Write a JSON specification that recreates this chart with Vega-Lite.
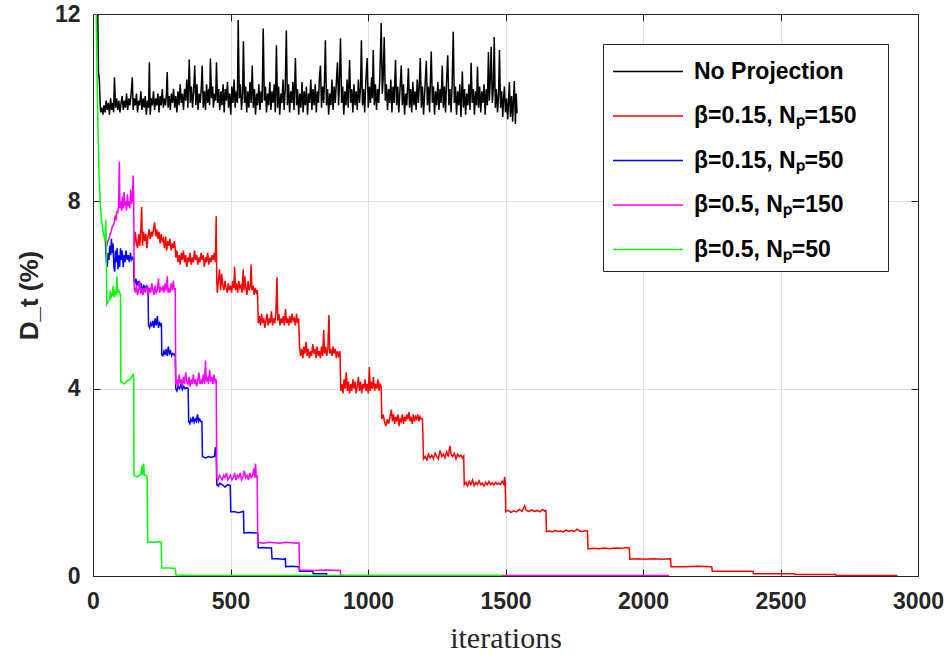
{
"$schema": "https://vega.github.io/schema/vega-lite/v6.json",
"width": 825, "height": 562,
"autosize": {"type": "none"},
"padding": {"left": 93, "top": 14, "right": 31, "bottom": 80},
"background": "white",
"config": {"view": {"stroke": "#262626", "strokeWidth": 1}, "font": "Liberation Sans"},
"data": {"values": [
{"k":"a","x":0,"y":16},{"k":"a","x":12,"y":13.5},{"k":"a","x":17,"y":12.2},{"k":"a","x":20,"y":10.75},{"k":"a","x":23,"y":10.6},{"k":"a","x":26,"y":10.1},{"k":"a","x":28,"y":9.9},{"k":"a","x":32,"y":10.0},{"k":"a","x":36,"y":9.85},{"k":"a","x":40,"y":10.05},{"k":"a","x":44,"y":9.9},{"k":"a","x":48,"y":10.15},{"k":"a","x":52,"y":9.95},{"k":"a","x":56,"y":10.1},{"k":"a","x":60,"y":9.85},{"k":"a","x":64,"y":10.2},{"k":"a","x":68,"y":9.95},{"k":"a","x":72,"y":10.1},{"k":"a","x":75,"y":9.9},{"k":"a","x":78,"y":10.65},{"k":"a","x":82,"y":10.0},{"k":"a","x":86,"y":10.2},{"k":"a","x":90,"y":9.95},{"k":"a","x":94,"y":10.15},{"k":"a","x":98,"y":9.9},{"k":"a","x":102,"y":10.1},{"k":"a","x":106,"y":10.25},{"k":"a","x":110,"y":9.95},{"k":"a","x":114,"y":10.15},{"k":"a","x":118,"y":10.0},{"k":"a","x":122,"y":10.3},{"k":"a","x":126,"y":9.95},{"k":"a","x":130,"y":10.2},{"k":"a","x":134,"y":10.05},{"k":"a","x":138,"y":10.25},{"k":"a","x":143,"y":10.65},{"k":"a","x":146,"y":9.95},{"k":"a","x":150,"y":10.2},{"k":"a","x":154,"y":10.05},{"k":"a","x":158,"y":10.3},{"k":"a","x":162,"y":9.9},{"k":"a","x":166,"y":10.15},{"k":"a","x":170,"y":10.05},{"k":"a","x":174,"y":10.35},{"k":"a","x":178,"y":9.95},{"k":"a","x":182,"y":10.2},{"k":"a","x":186,"y":10.0},{"k":"a","x":190,"y":10.25},{"k":"a","x":194,"y":9.85},{"k":"a","x":198,"y":10.15},{"k":"a","x":202,"y":10.0},{"k":"a","x":205,"y":10.97},{"k":"a","x":208,"y":9.85},{"k":"a","x":212,"y":10.2},{"k":"a","x":216,"y":10.05},{"k":"a","x":220,"y":10.35},{"k":"a","x":224,"y":9.95},{"k":"a","x":228,"y":10.2},{"k":"a","x":232,"y":10.05},{"k":"a","x":236,"y":10.3},{"k":"a","x":240,"y":9.9},{"k":"a","x":244,"y":10.25},{"k":"a","x":248,"y":10.05},{"k":"a","x":252,"y":10.4},{"k":"a","x":256,"y":10.0},{"k":"a","x":260,"y":10.2},{"k":"a","x":264,"y":10.05},{"k":"a","x":267,"y":10.3},{"k":"a","x":270,"y":10.76},{"k":"a","x":273,"y":10.0},{"k":"a","x":277,"y":10.25},{"k":"a","x":281,"y":9.95},{"k":"a","x":285,"y":10.3},{"k":"a","x":289,"y":10.1},{"k":"a","x":293,"y":10.4},{"k":"a","x":297,"y":10.0},{"k":"a","x":301,"y":10.25},{"k":"a","x":305,"y":9.9},{"k":"a","x":309,"y":10.35},{"k":"a","x":313,"y":10.05},{"k":"a","x":317,"y":10.5},{"k":"a","x":321,"y":10.1},{"k":"a","x":325,"y":10.3},{"k":"a","x":329,"y":9.95},{"k":"a","x":333,"y":10.4},{"k":"a","x":337,"y":10.15},{"k":"a","x":341,"y":10.6},{"k":"a","x":345,"y":10.0},{"k":"a","x":350,"y":11.03},{"k":"a","x":354,"y":10.1},{"k":"a","x":358,"y":10.45},{"k":"a","x":362,"y":10.0},{"k":"a","x":366,"y":10.35},{"k":"a","x":370,"y":10.9},{"k":"a","x":374,"y":10.05},{"k":"a","x":378,"y":10.5},{"k":"a","x":382,"y":9.95},{"k":"a","x":386,"y":10.3},{"k":"a","x":390,"y":10.1},{"k":"a","x":394,"y":10.45},{"k":"a","x":397,"y":10.9},{"k":"a","x":401,"y":10.0},{"k":"a","x":405,"y":10.35},{"k":"a","x":409,"y":9.95},{"k":"a","x":413,"y":10.5},{"k":"a","x":417,"y":10.1},{"k":"a","x":421,"y":10.4},{"k":"a","x":424,"y":10.05},{"k":"a","x":427,"y":11.05},{"k":"a","x":431,"y":10.2},{"k":"a","x":435,"y":10.45},{"k":"a","x":438,"y":10.0},{"k":"a","x":442,"y":10.3},{"k":"a","x":446,"y":10.15},{"k":"a","x":449,"y":10.97},{"k":"a","x":453,"y":10.1},{"k":"a","x":457,"y":10.4},{"k":"a","x":461,"y":9.95},{"k":"a","x":465,"y":10.35},{"k":"a","x":469,"y":10.05},{"k":"a","x":473,"y":10.5},{"k":"a","x":477,"y":9.9},{"k":"a","x":481,"y":10.4},{"k":"a","x":485,"y":10.15},{"k":"a","x":489,"y":10.55},{"k":"a","x":493,"y":10.0},{"k":"a","x":497,"y":10.3},{"k":"a","x":501,"y":9.85},{"k":"a","x":505,"y":10.45},{"k":"a","x":509,"y":10.1},{"k":"a","x":513,"y":10.6},{"k":"a","x":517,"y":10.0},{"k":"a","x":521,"y":10.35},{"k":"a","x":525,"y":10.1},{"k":"a","x":528,"y":11.87},{"k":"a","x":532,"y":10.2},{"k":"a","x":536,"y":10.5},{"k":"a","x":540,"y":9.95},{"k":"a","x":544,"y":10.3},{"k":"a","x":547,"y":11.42},{"k":"a","x":551,"y":10.1},{"k":"a","x":555,"y":10.45},{"k":"a","x":559,"y":9.9},{"k":"a","x":563,"y":10.35},{"k":"a","x":567,"y":10.0},{"k":"a","x":571,"y":10.55},{"k":"a","x":575,"y":10.1},{"k":"a","x":579,"y":10.9},{"k":"a","x":583,"y":10.0},{"k":"a","x":587,"y":10.4},{"k":"a","x":591,"y":9.85},{"k":"a","x":595,"y":10.3},{"k":"a","x":599,"y":10.05},{"k":"a","x":603,"y":10.5},{"k":"a","x":607,"y":9.95},{"k":"a","x":611,"y":10.35},{"k":"a","x":615,"y":10.1},{"k":"a","x":619,"y":11.69},{"k":"a","x":623,"y":10.15},{"k":"a","x":627,"y":10.45},{"k":"a","x":631,"y":9.9},{"k":"a","x":635,"y":10.3},{"k":"a","x":639,"y":10.05},{"k":"a","x":643,"y":10.55},{"k":"a","x":647,"y":9.95},{"k":"a","x":651,"y":10.35},{"k":"a","x":655,"y":10.1},{"k":"a","x":659,"y":10.5},{"k":"a","x":663,"y":9.9},{"k":"a","x":667,"y":11.33},{"k":"a","x":671,"y":10.0},{"k":"a","x":675,"y":10.45},{"k":"a","x":679,"y":9.85},{"k":"a","x":683,"y":10.3},{"k":"a","x":687,"y":10.1},{"k":"a","x":691,"y":10.6},{"k":"a","x":695,"y":9.95},{"k":"a","x":699,"y":10.4},{"k":"a","x":703,"y":11.65},{"k":"a","x":707,"y":10.05},{"k":"a","x":711,"y":10.5},{"k":"a","x":715,"y":9.9},{"k":"a","x":719,"y":10.35},{"k":"a","x":723,"y":10.1},{"k":"a","x":727,"y":10.55},{"k":"a","x":731,"y":9.95},{"k":"a","x":736,"y":11.06},{"k":"a","x":740,"y":10.05},{"k":"a","x":744,"y":10.4},{"k":"a","x":748,"y":9.85},{"k":"a","x":752,"y":10.3},{"k":"a","x":756,"y":10.0},{"k":"a","x":760,"y":10.55},{"k":"a","x":764,"y":9.9},{"k":"a","x":768,"y":10.35},{"k":"a","x":772,"y":10.05},{"k":"a","x":776,"y":10.45},{"k":"a","x":780,"y":9.85},{"k":"a","x":784,"y":10.3},{"k":"a","x":788,"y":10.1},{"k":"a","x":792,"y":10.6},{"k":"a","x":796,"y":9.95},{"k":"a","x":800,"y":10.4},{"k":"a","x":804,"y":10.05},{"k":"a","x":808,"y":10.5},{"k":"a","x":812,"y":9.9},{"k":"a","x":816,"y":10.35},{"k":"a","x":820,"y":10.1},{"k":"a","x":823,"y":10.6},{"k":"a","x":827,"y":10.9},{"k":"a","x":831,"y":10.0},{"k":"a","x":835,"y":10.45},{"k":"a","x":839,"y":10.1},{"k":"a","x":842,"y":10.6},{"k":"a","x":845,"y":11.44},{"k":"a","x":849,"y":10.05},{"k":"a","x":853,"y":10.4},{"k":"a","x":857,"y":9.85},{"k":"a","x":861,"y":10.3},{"k":"a","x":865,"y":10.05},{"k":"a","x":869,"y":10.6},{"k":"a","x":873,"y":9.95},{"k":"a","x":877,"y":10.45},{"k":"a","x":881,"y":10.1},{"k":"a","x":885,"y":10.55},{"k":"a","x":889,"y":10.97},{"k":"a","x":893,"y":10.05},{"k":"a","x":896,"y":10.5},{"k":"a","x":900,"y":11.48},{"k":"a","x":904,"y":10.1},{"k":"a","x":908,"y":10.45},{"k":"a","x":912,"y":9.85},{"k":"a","x":916,"y":10.35},{"k":"a","x":920,"y":10.05},{"k":"a","x":924,"y":10.6},{"k":"a","x":928,"y":10.0},{"k":"a","x":933,"y":11.02},{"k":"a","x":937,"y":10.1},{"k":"a","x":941,"y":10.4},{"k":"a","x":945,"y":9.9},{"k":"a","x":949,"y":10.5},{"k":"a","x":953,"y":10.05},{"k":"a","x":957,"y":10.35},{"k":"a","x":961,"y":9.95},{"k":"a","x":965,"y":10.6},{"k":"a","x":969,"y":10.1},{"k":"a","x":973,"y":10.45},{"k":"a","x":976,"y":11.44},{"k":"a","x":980,"y":10.05},{"k":"a","x":984,"y":10.4},{"k":"a","x":988,"y":9.9},{"k":"a","x":992,"y":10.55},{"k":"a","x":997,"y":11.06},{"k":"a","x":1001,"y":10.0},{"k":"a","x":1005,"y":10.45},{"k":"a","x":1009,"y":10.1},{"k":"a","x":1013,"y":10.65},{"k":"a","x":1016,"y":10.2},{"k":"a","x":1019,"y":11.23},{"k":"a","x":1023,"y":10.05},{"k":"a","x":1027,"y":10.5},{"k":"a","x":1031,"y":9.95},{"k":"a","x":1035,"y":10.4},{"k":"a","x":1039,"y":10.1},{"k":"a","x":1043,"y":10.65},{"k":"a","x":1048,"y":11.81},{"k":"a","x":1052,"y":10.3},{"k":"a","x":1055,"y":10.6},{"k":"a","x":1059,"y":11.51},{"k":"a","x":1063,"y":10.15},{"k":"a","x":1067,"y":10.5},{"k":"a","x":1071,"y":9.95},{"k":"a","x":1075,"y":10.4},{"k":"a","x":1079,"y":10.1},{"k":"a","x":1083,"y":10.6},{"k":"a","x":1087,"y":9.9},{"k":"a","x":1091,"y":10.45},{"k":"a","x":1095,"y":10.1},{"k":"a","x":1100,"y":11.02},{"k":"a","x":1104,"y":10.05},{"k":"a","x":1108,"y":10.45},{"k":"a","x":1112,"y":9.9},{"k":"a","x":1116,"y":10.35},{"k":"a","x":1121,"y":10.9},{"k":"a","x":1125,"y":10.05},{"k":"a","x":1129,"y":10.5},{"k":"a","x":1133,"y":9.85},{"k":"a","x":1137,"y":10.3},{"k":"a","x":1141,"y":10.05},{"k":"a","x":1147,"y":10.84},{"k":"a","x":1151,"y":10.0},{"k":"a","x":1155,"y":10.4},{"k":"a","x":1159,"y":9.9},{"k":"a","x":1163,"y":10.55},{"k":"a","x":1167,"y":10.05},{"k":"a","x":1171,"y":10.35},{"k":"a","x":1175,"y":9.95},{"k":"a","x":1179,"y":10.6},{"k":"a","x":1183,"y":10.1},{"k":"a","x":1186,"y":10.4},{"k":"a","x":1190,"y":11.06},{"k":"a","x":1194,"y":10.0},{"k":"a","x":1198,"y":10.45},{"k":"a","x":1202,"y":9.85},{"k":"a","x":1206,"y":10.3},{"k":"a","x":1212,"y":11.0},{"k":"a","x":1216,"y":10.05},{"k":"a","x":1220,"y":10.45},{"k":"a","x":1224,"y":9.9},{"k":"a","x":1227,"y":10.6},{"k":"a","x":1230,"y":11.2},{"k":"a","x":1234,"y":10.1},{"k":"a","x":1238,"y":10.45},{"k":"a","x":1242,"y":9.85},{"k":"a","x":1246,"y":10.35},{"k":"a","x":1250,"y":10.05},{"k":"a","x":1254,"y":10.55},{"k":"a","x":1258,"y":9.95},{"k":"a","x":1262,"y":10.4},{"k":"a","x":1266,"y":10.1},{"k":"a","x":1270,"y":10.9},{"k":"a","x":1274,"y":10.0},{"k":"a","x":1278,"y":10.45},{"k":"a","x":1282,"y":9.9},{"k":"a","x":1286,"y":10.6},{"k":"a","x":1290,"y":11.12},{"k":"a","x":1294,"y":10.05},{"k":"a","x":1298,"y":10.4},{"k":"a","x":1302,"y":9.9},{"k":"a","x":1306,"y":10.5},{"k":"a","x":1310,"y":11.62},{"k":"a","x":1314,"y":10.1},{"k":"a","x":1318,"y":10.45},{"k":"a","x":1322,"y":9.85},{"k":"a","x":1326,"y":10.35},{"k":"a","x":1330,"y":10.05},{"k":"a","x":1334,"y":10.5},{"k":"a","x":1338,"y":9.8},{"k":"a","x":1343,"y":10.77},{"k":"a","x":1347,"y":10.0},{"k":"a","x":1351,"y":10.4},{"k":"a","x":1355,"y":9.85},{"k":"a","x":1359,"y":10.3},{"k":"a","x":1363,"y":10.05},{"k":"a","x":1367,"y":10.5},{"k":"a","x":1371,"y":9.95},{"k":"a","x":1375,"y":10.96},{"k":"a","x":1379,"y":10.1},{"k":"a","x":1383,"y":10.4},{"k":"a","x":1387,"y":9.85},{"k":"a","x":1391,"y":10.35},{"k":"a","x":1395,"y":10.05},{"k":"a","x":1398,"y":10.88},{"k":"a","x":1402,"y":10.0},{"k":"a","x":1406,"y":10.45},{"k":"a","x":1410,"y":9.9},{"k":"a","x":1414,"y":10.35},{"k":"a","x":1418,"y":10.1},{"k":"a","x":1422,"y":10.5},{"k":"a","x":1426,"y":9.85},{"k":"a","x":1430,"y":10.4},{"k":"a","x":1434,"y":10.05},{"k":"a","x":1438,"y":11.19},{"k":"a","x":1441,"y":10.15},{"k":"a","x":1444,"y":10.5},{"k":"a","x":1448,"y":11.3},{"k":"a","x":1452,"y":10.1},{"k":"a","x":1456,"y":10.45},{"k":"a","x":1459,"y":11.51},{"k":"a","x":1463,"y":10.0},{"k":"a","x":1467,"y":10.4},{"k":"a","x":1471,"y":9.9},{"k":"a","x":1475,"y":10.3},{"k":"a","x":1478,"y":11.23},{"k":"a","x":1482,"y":10.0},{"k":"a","x":1486,"y":10.35},{"k":"a","x":1490,"y":9.8},{"k":"a","x":1493,"y":10.2},{"k":"a","x":1496,"y":10.45},{"k":"a","x":1500,"y":9.9},{"k":"a","x":1504,"y":10.2},{"k":"a","x":1508,"y":9.75},{"k":"a","x":1511,"y":10.1},{"k":"a","x":1514,"y":10.55},{"k":"a","x":1518,"y":9.8},{"k":"a","x":1522,"y":10.25},{"k":"a","x":1526,"y":9.7},{"k":"a","x":1529,"y":10.2},{"k":"a","x":1532,"y":10.57},{"k":"a","x":1536,"y":9.65},{"k":"a","x":1539,"y":10.3},{"k":"a","x":1542,"y":9.88},
{"k":"b","x":150,"y":7.05},{"k":"b","x":154,"y":7.35},{"k":"b","x":158,"y":7.1},{"k":"b","x":162,"y":7.0},{"k":"b","x":166,"y":7.3},{"k":"b","x":170,"y":7.05},{"k":"b","x":174,"y":7.4},{"k":"b","x":177,"y":7.88},{"k":"b","x":180,"y":7.05},{"k":"b","x":184,"y":7.35},{"k":"b","x":188,"y":7.15},{"k":"b","x":192,"y":7.3},{"k":"b","x":196,"y":7.0},{"k":"b","x":200,"y":7.25},{"k":"b","x":204,"y":7.4},{"k":"b","x":208,"y":7.2},{"k":"b","x":212,"y":7.35},{"k":"b","x":216,"y":7.25},{"k":"b","x":220,"y":7.4},{"k":"b","x":224,"y":7.55},{"k":"b","x":228,"y":7.25},{"k":"b","x":232,"y":7.4},{"k":"b","x":236,"y":7.2},{"k":"b","x":240,"y":7.35},{"k":"b","x":244,"y":7.1},{"k":"b","x":248,"y":7.3},{"k":"b","x":252,"y":7.15},{"k":"b","x":256,"y":7.2},{"k":"b","x":260,"y":7.0},{"k":"b","x":264,"y":7.25},{"k":"b","x":268,"y":6.95},{"k":"b","x":272,"y":7.15},{"k":"b","x":276,"y":7.05},{"k":"b","x":280,"y":7.2},{"k":"b","x":284,"y":6.95},{"k":"b","x":288,"y":7.1},{"k":"b","x":292,"y":7.0},{"k":"b","x":296,"y":7.15},{"k":"b","x":299,"y":7.0},
{"k":"b","x":301,"y":6.8},{"k":"b","x":305,"y":6.95},{"k":"b","x":309,"y":6.7},{"k":"b","x":313,"y":6.85},{"k":"b","x":317,"y":6.65},{"k":"b","x":321,"y":6.9},{"k":"b","x":325,"y":6.75},{"k":"b","x":329,"y":6.95},{"k":"b","x":333,"y":6.7},{"k":"b","x":337,"y":6.85},{"k":"b","x":341,"y":6.6},{"k":"b","x":345,"y":6.8},{"k":"b","x":349,"y":6.7},{"k":"b","x":353,"y":6.9},{"k":"b","x":357,"y":6.65},{"k":"b","x":361,"y":6.8},{"k":"b","x":365,"y":6.7},{"k":"b","x":369,"y":6.95},{"k":"b","x":373,"y":6.75},{"k":"b","x":377,"y":6.85},{"k":"b","x":381,"y":6.65},{"k":"b","x":385,"y":6.8},{"k":"b","x":389,"y":6.7},{"k":"b","x":393,"y":6.9},{"k":"b","x":397,"y":6.75},{"k":"b","x":401,"y":6.85},{"k":"b","x":405,"y":6.6},{"k":"b","x":409,"y":6.8},{"k":"b","x":413,"y":6.7},{"k":"b","x":417,"y":6.9},{"k":"b","x":421,"y":6.65},{"k":"b","x":425,"y":6.8},{"k":"b","x":429,"y":6.7},{"k":"b","x":433,"y":6.85},{"k":"b","x":437,"y":6.75},{"k":"b","x":441,"y":6.9},{"k":"b","x":445,"y":6.7},{"k":"b","x":448,"y":7.68},{"k":"b","x":450,"y":6.3},
{"k":"b","x":452,"y":6.05},{"k":"b","x":456,"y":6.3},{"k":"b","x":460,"y":6.55},{"k":"b","x":464,"y":6.1},{"k":"b","x":468,"y":6.45},{"k":"b","x":472,"y":6.2},{"k":"b","x":476,"y":6.1},{"k":"b","x":480,"y":6.3},{"k":"b","x":484,"y":6.15},{"k":"b","x":488,"y":6.05},{"k":"b","x":492,"y":6.25},{"k":"b","x":496,"y":6.1},{"k":"b","x":500,"y":6.2},{"k":"b","x":504,"y":6.05},{"k":"b","x":508,"y":6.3},{"k":"b","x":512,"y":6.15},{"k":"b","x":515,"y":6.6},{"k":"b","x":518,"y":6.1},{"k":"b","x":522,"y":6.25},{"k":"b","x":526,"y":6.05},{"k":"b","x":530,"y":6.3},{"k":"b","x":534,"y":6.15},{"k":"b","x":538,"y":6.2},{"k":"b","x":542,"y":6.05},{"k":"b","x":546,"y":6.55},{"k":"b","x":549,"y":6.1},{"k":"b","x":552,"y":6.4},{"k":"b","x":556,"y":6.15},{"k":"b","x":560,"y":6.0},{"k":"b","x":564,"y":6.3},{"k":"b","x":568,"y":6.1},{"k":"b","x":572,"y":6.2},{"k":"b","x":575,"y":6.65},{"k":"b","x":578,"y":6.1},{"k":"b","x":582,"y":6.2},{"k":"b","x":586,"y":6.0},{"k":"b","x":590,"y":6.15},{"k":"b","x":594,"y":6.05},{"k":"b","x":598,"y":6.1},
{"k":"b","x":601,"y":5.4},{"k":"b","x":605,"y":5.55},{"k":"b","x":609,"y":5.35},{"k":"b","x":613,"y":5.6},{"k":"b","x":617,"y":5.4},{"k":"b","x":621,"y":5.5},{"k":"b","x":625,"y":5.3},{"k":"b","x":629,"y":5.45},{"k":"b","x":633,"y":5.6},{"k":"b","x":637,"y":5.35},{"k":"b","x":641,"y":5.5},{"k":"b","x":645,"y":5.4},{"k":"b","x":649,"y":5.65},{"k":"b","x":653,"y":5.35},{"k":"b","x":657,"y":5.5},{"k":"b","x":661,"y":5.4},{"k":"b","x":665,"y":5.6},{"k":"b","x":669,"y":6.38},{"k":"b","x":672,"y":5.45},{"k":"b","x":676,"y":5.6},{"k":"b","x":680,"y":5.35},{"k":"b","x":684,"y":5.5},{"k":"b","x":688,"y":5.4},{"k":"b","x":692,"y":5.55},{"k":"b","x":696,"y":5.35},{"k":"b","x":700,"y":5.7},{"k":"b","x":704,"y":5.4},{"k":"b","x":708,"y":5.5},{"k":"b","x":712,"y":5.35},{"k":"b","x":716,"y":5.55},{"k":"b","x":720,"y":5.4},{"k":"b","x":724,"y":5.6},{"k":"b","x":728,"y":5.45},{"k":"b","x":732,"y":5.5},{"k":"b","x":736,"y":5.35},{"k":"b","x":740,"y":5.6},{"k":"b","x":744,"y":5.4},{"k":"b","x":748,"y":5.5},
{"k":"b","x":751,"y":4.9},{"k":"b","x":755,"y":4.7},{"k":"b","x":759,"y":4.85},{"k":"b","x":763,"y":4.65},{"k":"b","x":767,"y":4.9},{"k":"b","x":771,"y":4.75},{"k":"b","x":775,"y":5.0},{"k":"b","x":779,"y":4.7},{"k":"b","x":783,"y":4.85},{"k":"b","x":787,"y":4.65},{"k":"b","x":791,"y":4.8},{"k":"b","x":795,"y":4.7},{"k":"b","x":799,"y":4.95},{"k":"b","x":803,"y":4.75},{"k":"b","x":807,"y":4.85},{"k":"b","x":811,"y":4.65},{"k":"b","x":815,"y":4.9},{"k":"b","x":819,"y":4.7},{"k":"b","x":823,"y":4.8},{"k":"b","x":827,"y":4.65},{"k":"b","x":831,"y":4.9},{"k":"b","x":835,"y":4.7},{"k":"b","x":839,"y":5.25},{"k":"b","x":842,"y":4.75},{"k":"b","x":846,"y":4.9},{"k":"b","x":850,"y":4.7},{"k":"b","x":854,"y":4.85},{"k":"b","x":858,"y":5.57},{"k":"b","x":861,"y":4.75},{"k":"b","x":865,"y":4.85},{"k":"b","x":869,"y":4.7},{"k":"b","x":873,"y":4.9},{"k":"b","x":877,"y":4.75},{"k":"b","x":881,"y":4.85},{"k":"b","x":885,"y":4.65},{"k":"b","x":889,"y":4.8},{"k":"b","x":893,"y":4.7},{"k":"b","x":898,"y":4.8},
{"k":"b","x":901,"y":3.95},{"k":"b","x":905,"y":4.1},{"k":"b","x":909,"y":3.9},{"k":"b","x":913,"y":4.2},{"k":"b","x":917,"y":4.0},{"k":"b","x":921,"y":4.35},{"k":"b","x":925,"y":3.95},{"k":"b","x":929,"y":4.15},{"k":"b","x":933,"y":3.9},{"k":"b","x":937,"y":4.1},{"k":"b","x":941,"y":3.95},{"k":"b","x":945,"y":4.2},{"k":"b","x":949,"y":4.0},{"k":"b","x":953,"y":4.15},{"k":"b","x":957,"y":3.9},{"k":"b","x":961,"y":4.05},{"k":"b","x":965,"y":4.25},{"k":"b","x":969,"y":3.95},{"k":"b","x":973,"y":4.15},{"k":"b","x":977,"y":3.9},{"k":"b","x":981,"y":4.1},{"k":"b","x":985,"y":4.0},{"k":"b","x":989,"y":4.2},{"k":"b","x":993,"y":3.95},{"k":"b","x":997,"y":4.1},{"k":"b","x":1001,"y":3.9},{"k":"b","x":1005,"y":4.46},{"k":"b","x":1008,"y":3.95},{"k":"b","x":1012,"y":4.15},{"k":"b","x":1016,"y":4.0},{"k":"b","x":1020,"y":4.25},{"k":"b","x":1024,"y":3.95},{"k":"b","x":1028,"y":4.1},{"k":"b","x":1032,"y":4.0},{"k":"b","x":1036,"y":4.2},{"k":"b","x":1040,"y":3.95},{"k":"b","x":1044,"y":4.1},{"k":"b","x":1048,"y":4.05},
{"k":"b","x":1050,"y":3.35},{"k":"b","x":1055,"y":3.45},{"k":"b","x":1060,"y":3.3},{"k":"b","x":1065,"y":3.2},{"k":"b","x":1070,"y":3.35},{"k":"b","x":1075,"y":3.25},{"k":"b","x":1080,"y":3.4},{"k":"b","x":1085,"y":3.55},{"k":"b","x":1089,"y":3.3},{"k":"b","x":1093,"y":3.45},{"k":"b","x":1097,"y":3.25},{"k":"b","x":1101,"y":3.4},{"k":"b","x":1105,"y":3.3},{"k":"b","x":1109,"y":3.45},{"k":"b","x":1113,"y":3.2},{"k":"b","x":1117,"y":3.35},{"k":"b","x":1121,"y":3.3},{"k":"b","x":1125,"y":3.45},{"k":"b","x":1129,"y":3.25},{"k":"b","x":1133,"y":3.4},{"k":"b","x":1137,"y":3.3},{"k":"b","x":1141,"y":3.45},{"k":"b","x":1145,"y":3.35},{"k":"b","x":1149,"y":3.5},{"k":"b","x":1153,"y":3.3},{"k":"b","x":1157,"y":3.4},{"k":"b","x":1161,"y":3.25},{"k":"b","x":1165,"y":3.45},{"k":"b","x":1169,"y":3.3},{"k":"b","x":1173,"y":3.4},{"k":"b","x":1177,"y":3.35},{"k":"b","x":1181,"y":3.45},{"k":"b","x":1185,"y":3.3},{"k":"b","x":1189,"y":3.4},{"k":"b","x":1193,"y":3.35},{"k":"b","x":1198,"y":3.35},
{"k":"b","x":1202,"y":2.5},{"k":"b","x":1208,"y":2.55},{"k":"b","x":1214,"y":2.48},{"k":"b","x":1220,"y":2.6},{"k":"b","x":1226,"y":2.52},{"k":"b","x":1232,"y":2.58},{"k":"b","x":1238,"y":2.5},{"k":"b","x":1244,"y":2.62},{"k":"b","x":1250,"y":2.55},{"k":"b","x":1256,"y":2.5},{"k":"b","x":1262,"y":2.68},{"k":"b","x":1268,"y":2.55},{"k":"b","x":1274,"y":2.6},{"k":"b","x":1280,"y":2.52},{"k":"b","x":1286,"y":2.65},{"k":"b","x":1292,"y":2.55},{"k":"b","x":1298,"y":2.78},{"k":"b","x":1302,"y":2.6},{"k":"b","x":1308,"y":2.55},{"k":"b","x":1314,"y":2.62},{"k":"b","x":1320,"y":2.5},{"k":"b","x":1326,"y":2.6},{"k":"b","x":1332,"y":2.55},{"k":"b","x":1338,"y":2.58},{"k":"b","x":1344,"y":2.52},{"k":"b","x":1348,"y":2.56},
{"k":"b","x":1350,"y":1.95},{"k":"b","x":1356,"y":2.0},{"k":"b","x":1362,"y":1.92},{"k":"b","x":1368,"y":2.02},{"k":"b","x":1374,"y":1.95},{"k":"b","x":1380,"y":2.05},{"k":"b","x":1386,"y":1.93},{"k":"b","x":1392,"y":2.0},{"k":"b","x":1398,"y":1.95},{"k":"b","x":1404,"y":2.03},{"k":"b","x":1410,"y":1.95},{"k":"b","x":1416,"y":1.98},{"k":"b","x":1422,"y":1.92},{"k":"b","x":1428,"y":2.0},{"k":"b","x":1434,"y":1.95},{"k":"b","x":1440,"y":2.02},{"k":"b","x":1446,"y":1.95},{"k":"b","x":1452,"y":1.99},{"k":"b","x":1458,"y":1.94},{"k":"b","x":1464,"y":2.0},{"k":"b","x":1470,"y":1.96},{"k":"b","x":1476,"y":1.98},{"k":"b","x":1482,"y":1.95},{"k":"b","x":1488,"y":2.02},{"k":"b","x":1494,"y":1.96},{"k":"b","x":1497,"y":2.12},{"k":"b","x":1499,"y":2.0},
{"k":"b","x":1501,"y":1.37},{"k":"b","x":1510,"y":1.4},{"k":"b","x":1520,"y":1.36},{"k":"b","x":1530,"y":1.39},{"k":"b","x":1540,"y":1.37},{"k":"b","x":1550,"y":1.42},{"k":"b","x":1560,"y":1.38},{"k":"b","x":1570,"y":1.5},{"k":"b","x":1575,"y":1.4},{"k":"b","x":1585,"y":1.38},{"k":"b","x":1595,"y":1.41},{"k":"b","x":1605,"y":1.38},{"k":"b","x":1615,"y":1.4},{"k":"b","x":1625,"y":1.37},{"k":"b","x":1635,"y":1.42},{"k":"b","x":1642,"y":1.39},{"k":"b","x":1647,"y":1.4},
{"k":"b","x":1649,"y":0.95},{"k":"b","x":1660,"y":0.96},{"k":"b","x":1670,"y":0.94},{"k":"b","x":1680,"y":0.97},{"k":"b","x":1690,"y":0.95},{"k":"b","x":1700,"y":0.96},{"k":"b","x":1710,"y":0.94},{"k":"b","x":1720,"y":0.98},{"k":"b","x":1730,"y":0.95},{"k":"b","x":1740,"y":0.97},{"k":"b","x":1750,"y":0.95},{"k":"b","x":1760,"y":1.0},{"k":"b","x":1770,"y":0.96},{"k":"b","x":1780,"y":0.95},{"k":"b","x":1790,"y":0.97},{"k":"b","x":1798,"y":0.96},
{"k":"b","x":1800,"y":0.58},{"k":"b","x":1820,"y":0.59},{"k":"b","x":1840,"y":0.58},{"k":"b","x":1860,"y":0.6},{"k":"b","x":1880,"y":0.58},{"k":"b","x":1900,"y":0.6},{"k":"b","x":1920,"y":0.59},{"k":"b","x":1940,"y":0.61},{"k":"b","x":1950,"y":0.6},
{"k":"b","x":1952,"y":0.36},{"k":"b","x":1980,"y":0.37},{"k":"b","x":2010,"y":0.36},{"k":"b","x":2040,"y":0.37},{"k":"b","x":2070,"y":0.36},{"k":"b","x":2100,"y":0.37},
{"k":"b","x":2102,"y":0.2},{"k":"b","x":2150,"y":0.2},{"k":"b","x":2200,"y":0.21},{"k":"b","x":2250,"y":0.2},
{"k":"b","x":2252,"y":0.1},{"k":"b","x":2300,"y":0.1},{"k":"b","x":2350,"y":0.1},{"k":"b","x":2400,"y":0.1},
{"k":"b","x":2402,"y":0.05},{"k":"b","x":2550,"y":0.05},{"k":"b","x":2552,"y":0.03},{"k":"b","x":2700,"y":0.03},{"k":"b","x":2702,"y":0.01},{"k":"b","x":2925,"y":0.01},
{"k":"c","x":45,"y":7.15},{"k":"c","x":48,"y":6.75},{"k":"c","x":52,"y":6.6},{"k":"c","x":55,"y":6.9},{"k":"c","x":58,"y":6.75},{"k":"c","x":61,"y":7.05},{"k":"c","x":64,"y":6.85},{"k":"c","x":67,"y":7.2},{"k":"c","x":70,"y":6.9},{"k":"c","x":73,"y":7.1},{"k":"c","x":76,"y":6.6},{"k":"c","x":79,"y":6.5},{"k":"c","x":82,"y":6.95},{"k":"c","x":85,"y":6.7},{"k":"c","x":88,"y":7.0},{"k":"c","x":91,"y":6.55},{"k":"c","x":94,"y":6.85},{"k":"c","x":97,"y":6.6},{"k":"c","x":100,"y":7.0},{"k":"c","x":103,"y":6.75},{"k":"c","x":106,"y":6.95},{"k":"c","x":110,"y":6.6},{"k":"c","x":113,"y":6.85},{"k":"c","x":116,"y":6.7},{"k":"c","x":120,"y":6.95},{"k":"c","x":124,"y":6.75},{"k":"c","x":128,"y":6.85},{"k":"c","x":132,"y":6.7},{"k":"c","x":136,"y":6.9},{"k":"c","x":140,"y":6.75},{"k":"c","x":145,"y":6.8},{"k":"c","x":148,"y":6.75},
{"k":"c","x":149,"y":6.3},{"k":"c","x":152,"y":6.25},{"k":"c","x":156,"y":6.35},{"k":"c","x":160,"y":6.2},{"k":"c","x":165,"y":6.3},{"k":"c","x":170,"y":6.15},{"k":"c","x":175,"y":6.25},{"k":"c","x":180,"y":6.1},{"k":"c","x":185,"y":6.2},{"k":"c","x":190,"y":6.15},{"k":"c","x":195,"y":6.2},{"k":"c","x":200,"y":6.15},
{"k":"c","x":202,"y":5.35},{"k":"c","x":206,"y":5.3},{"k":"c","x":210,"y":5.4},{"k":"c","x":214,"y":5.35},{"k":"c","x":218,"y":5.45},{"k":"c","x":222,"y":5.3},{"k":"c","x":226,"y":5.5},{"k":"c","x":230,"y":5.35},{"k":"c","x":234,"y":5.55},{"k":"c","x":238,"y":5.3},{"k":"c","x":242,"y":5.4},{"k":"c","x":246,"y":5.35},{"k":"c","x":249,"y":5.4},
{"k":"c","x":250,"y":4.72},{"k":"c","x":254,"y":4.7},{"k":"c","x":258,"y":4.8},{"k":"c","x":262,"y":4.72},{"k":"c","x":266,"y":4.85},{"k":"c","x":270,"y":4.7},{"k":"c","x":274,"y":4.9},{"k":"c","x":278,"y":4.75},{"k":"c","x":282,"y":4.8},{"k":"c","x":286,"y":4.7},{"k":"c","x":290,"y":4.75},{"k":"c","x":295,"y":4.72},{"k":"c","x":299,"y":4.75},
{"k":"c","x":301,"y":4.0},{"k":"c","x":305,"y":3.95},{"k":"c","x":310,"y":4.05},{"k":"c","x":315,"y":4.0},{"k":"c","x":320,"y":4.1},{"k":"c","x":325,"y":3.98},{"k":"c","x":330,"y":4.05},{"k":"c","x":335,"y":4.0},{"k":"c","x":340,"y":4.02},{"k":"c","x":346,"y":4.0},
{"k":"c","x":348,"y":3.3},{"k":"c","x":352,"y":3.25},{"k":"c","x":356,"y":3.35},{"k":"c","x":360,"y":3.3},{"k":"c","x":364,"y":3.4},{"k":"c","x":368,"y":3.28},{"k":"c","x":372,"y":3.35},{"k":"c","x":376,"y":3.3},{"k":"c","x":380,"y":3.45},{"k":"c","x":384,"y":3.3},{"k":"c","x":388,"y":3.35},{"k":"c","x":392,"y":3.3},{"k":"c","x":396,"y":3.3},
{"k":"c","x":398,"y":2.55},{"k":"c","x":410,"y":2.52},{"k":"c","x":420,"y":2.55},{"k":"c","x":430,"y":2.53},{"k":"c","x":438,"y":2.55},{"k":"c","x":442,"y":2.55},{"k":"c","x":445,"y":2.75},{"k":"c","x":448,"y":2.7},
{"k":"c","x":450,"y":1.95},{"k":"c","x":456,"y":1.92},{"k":"c","x":460,"y":1.98},{"k":"c","x":470,"y":1.95},{"k":"c","x":480,"y":1.9},{"k":"c","x":490,"y":1.95},{"k":"c","x":499,"y":1.93},
{"k":"c","x":501,"y":1.37},{"k":"c","x":515,"y":1.37},{"k":"c","x":530,"y":1.35},{"k":"c","x":547,"y":1.38},{"k":"c","x":549,"y":0.92},{"k":"c","x":570,"y":0.93},{"k":"c","x":590,"y":0.92},{"k":"c","x":599,"y":0.92},{"k":"c","x":601,"y":0.6},{"k":"c","x":620,"y":0.61},{"k":"c","x":640,"y":0.6},{"k":"c","x":649,"y":0.6},{"k":"c","x":651,"y":0.37},{"k":"c","x":670,"y":0.37},{"k":"c","x":690,"y":0.36},{"k":"c","x":699,"y":0.37},{"k":"c","x":701,"y":0.2},{"k":"c","x":720,"y":0.21},{"k":"c","x":749,"y":0.2},{"k":"c","x":751,"y":0.1},{"k":"c","x":799,"y":0.1},{"k":"c","x":801,"y":0.05},{"k":"c","x":849,"y":0.05},{"k":"c","x":851,"y":0.01},{"k":"c","x":900,"y":0.0},
{"k":"d","x":45,"y":7.15},{"k":"d","x":50,"y":7.05},{"k":"d","x":54,"y":7.15},{"k":"d","x":58,"y":7.2},{"k":"d","x":62,"y":7.3},{"k":"d","x":66,"y":7.35},{"k":"d","x":70,"y":7.45},{"k":"d","x":74,"y":7.5},{"k":"d","x":78,"y":7.55},{"k":"d","x":81,"y":7.7},{"k":"d","x":84,"y":7.6},{"k":"d","x":87,"y":7.8},{"k":"d","x":90,"y":7.75},{"k":"d","x":93,"y":7.9},{"k":"d","x":96,"y":8.85},{"k":"d","x":98,"y":7.85},{"k":"d","x":101,"y":8.0},{"k":"d","x":104,"y":7.8},{"k":"d","x":107,"y":8.1},{"k":"d","x":110,"y":7.85},{"k":"d","x":113,"y":8.2},{"k":"d","x":116,"y":7.9},{"k":"d","x":119,"y":8.0},{"k":"d","x":122,"y":7.8},{"k":"d","x":125,"y":8.15},{"k":"d","x":128,"y":7.9},{"k":"d","x":131,"y":8.0},{"k":"d","x":134,"y":7.85},{"k":"d","x":137,"y":8.25},{"k":"d","x":140,"y":7.95},{"k":"d","x":143,"y":8.0},{"k":"d","x":146,"y":8.55},{"k":"d","x":148,"y":8.1},
{"k":"d","x":150,"y":6.15},{"k":"d","x":154,"y":6.05},{"k":"d","x":158,"y":6.2},{"k":"d","x":162,"y":6.0},{"k":"d","x":166,"y":6.1},{"k":"d","x":170,"y":6.3},{"k":"d","x":174,"y":6.05},{"k":"d","x":178,"y":6.1},{"k":"d","x":182,"y":6.0},{"k":"d","x":186,"y":6.15},{"k":"d","x":190,"y":6.05},{"k":"d","x":194,"y":6.2},{"k":"d","x":198,"y":6.1},{"k":"d","x":202,"y":6.0},{"k":"d","x":206,"y":6.15},{"k":"d","x":210,"y":6.05},{"k":"d","x":214,"y":6.25},{"k":"d","x":218,"y":6.1},{"k":"d","x":222,"y":6.0},{"k":"d","x":226,"y":6.2},{"k":"d","x":230,"y":6.05},{"k":"d","x":234,"y":6.1},{"k":"d","x":238,"y":6.35},{"k":"d","x":242,"y":6.05},{"k":"d","x":246,"y":6.15},{"k":"d","x":250,"y":6.1},{"k":"d","x":254,"y":6.2},{"k":"d","x":258,"y":6.05},{"k":"d","x":262,"y":6.25},{"k":"d","x":266,"y":6.1},{"k":"d","x":270,"y":6.4},{"k":"d","x":273,"y":6.05},{"k":"d","x":276,"y":6.15},{"k":"d","x":280,"y":6.05},{"k":"d","x":284,"y":6.25},{"k":"d","x":288,"y":6.1},{"k":"d","x":292,"y":6.3},{"k":"d","x":296,"y":6.1},{"k":"d","x":299,"y":6.15},
{"k":"d","x":301,"y":4.1},{"k":"d","x":305,"y":4.2},{"k":"d","x":309,"y":4.05},{"k":"d","x":313,"y":4.3},{"k":"d","x":317,"y":4.1},{"k":"d","x":321,"y":4.2},{"k":"d","x":325,"y":4.05},{"k":"d","x":329,"y":4.25},{"k":"d","x":333,"y":4.1},{"k":"d","x":337,"y":4.35},{"k":"d","x":341,"y":4.15},{"k":"d","x":345,"y":4.1},{"k":"d","x":349,"y":4.25},{"k":"d","x":353,"y":4.05},{"k":"d","x":357,"y":4.2},{"k":"d","x":361,"y":4.1},{"k":"d","x":365,"y":4.3},{"k":"d","x":369,"y":4.1},{"k":"d","x":373,"y":4.2},{"k":"d","x":377,"y":4.05},{"k":"d","x":381,"y":4.15},{"k":"d","x":385,"y":4.35},{"k":"d","x":389,"y":4.1},{"k":"d","x":393,"y":4.2},{"k":"d","x":397,"y":4.1},{"k":"d","x":401,"y":4.3},{"k":"d","x":405,"y":4.1},{"k":"d","x":409,"y":4.6},{"k":"d","x":412,"y":4.15},{"k":"d","x":416,"y":4.25},{"k":"d","x":420,"y":4.1},{"k":"d","x":424,"y":4.4},{"k":"d","x":428,"y":4.15},{"k":"d","x":432,"y":4.25},{"k":"d","x":436,"y":4.1},{"k":"d","x":440,"y":4.3},{"k":"d","x":444,"y":4.15},{"k":"d","x":448,"y":4.2},
{"k":"d","x":450,"y":2.1},{"k":"d","x":455,"y":2.05},{"k":"d","x":460,"y":2.15},{"k":"d","x":465,"y":2.1},{"k":"d","x":470,"y":2.05},{"k":"d","x":475,"y":2.15},{"k":"d","x":480,"y":2.1},{"k":"d","x":485,"y":2.2},{"k":"d","x":490,"y":2.05},{"k":"d","x":495,"y":2.1},{"k":"d","x":500,"y":2.15},{"k":"d","x":505,"y":2.05},{"k":"d","x":510,"y":2.1},{"k":"d","x":515,"y":2.2},{"k":"d","x":520,"y":2.05},{"k":"d","x":525,"y":2.15},{"k":"d","x":530,"y":2.1},{"k":"d","x":535,"y":2.2},{"k":"d","x":540,"y":2.05},{"k":"d","x":545,"y":2.1},{"k":"d","x":550,"y":2.25},{"k":"d","x":555,"y":2.1},{"k":"d","x":560,"y":2.15},{"k":"d","x":565,"y":2.05},{"k":"d","x":570,"y":2.2},{"k":"d","x":575,"y":2.1},{"k":"d","x":580,"y":2.15},{"k":"d","x":585,"y":2.3},{"k":"d","x":588,"y":2.1},{"k":"d","x":591,"y":2.4},{"k":"d","x":594,"y":2.1},{"k":"d","x":597,"y":2.15},
{"k":"d","x":599,"y":0.72},{"k":"d","x":620,"y":0.7},{"k":"d","x":640,"y":0.72},{"k":"d","x":660,"y":0.71},{"k":"d","x":680,"y":0.7},{"k":"d","x":700,"y":0.72},{"k":"d","x":720,"y":0.71},{"k":"d","x":740,"y":0.7},{"k":"d","x":749,"y":0.71},{"k":"d","x":751,"y":0.13},{"k":"d","x":800,"y":0.12},{"k":"d","x":850,"y":0.13},{"k":"d","x":899,"y":0.12},{"k":"d","x":901,"y":0.01},{"k":"d","x":2095,"y":0.01},
{"k":"e","x":0,"y":16},{"k":"e","x":8,"y":13.5},{"k":"e","x":14,"y":11},{"k":"e","x":18,"y":9.6},{"k":"e","x":22,"y":8.6},{"k":"e","x":27,"y":7.9},{"k":"e","x":32,"y":7.55},{"k":"e","x":38,"y":7.3},{"k":"e","x":44,"y":7.15},{"k":"e","x":46,"y":7.6},{"k":"e","x":48,"y":7.2},{"k":"e","x":50,"y":5.8},{"k":"e","x":55,"y":5.85},{"k":"e","x":60,"y":5.9},{"k":"e","x":63,"y":6.1},{"k":"e","x":66,"y":5.95},{"k":"e","x":70,"y":6.0},{"k":"e","x":74,"y":6.2},{"k":"e","x":77,"y":5.95},{"k":"e","x":80,"y":6.05},{"k":"e","x":84,"y":6.0},{"k":"e","x":87,"y":6.4},{"k":"e","x":89,"y":6.05},{"k":"e","x":93,"y":6.1},{"k":"e","x":97,"y":6.05},{"k":"e","x":100,"y":6.0},{"k":"e","x":101,"y":4.15},{"k":"e","x":110,"y":4.12},{"k":"e","x":115,"y":4.1},{"k":"e","x":120,"y":4.15},{"k":"e","x":128,"y":4.18},{"k":"e","x":135,"y":4.2},{"k":"e","x":140,"y":4.25},{"k":"e","x":146,"y":4.3},{"k":"e","x":148,"y":4.2},{"k":"e","x":149,"y":2.15},{"k":"e","x":160,"y":2.12},{"k":"e","x":170,"y":2.15},{"k":"e","x":175,"y":2.2},{"k":"e","x":178,"y":2.35},{"k":"e","x":180,"y":2.15},{"k":"e","x":184,"y":2.4},{"k":"e","x":187,"y":2.15},{"k":"e","x":193,"y":2.15},{"k":"e","x":197,"y":2.12},{"k":"e","x":199,"y":0.72},{"k":"e","x":220,"y":0.72},{"k":"e","x":235,"y":0.73},{"k":"e","x":248,"y":0.72},{"k":"e","x":250,"y":0.17},{"k":"e","x":280,"y":0.17},{"k":"e","x":299,"y":0.16},{"k":"e","x":302,"y":0.02},{"k":"e","x":360,"y":0.01},{"k":"e","x":1490,"y":0.01}
]},
"layer": [
{
"transform": [{"filter": "datum.k != 'e'"}],
"mark": {"type": "line", "strokeWidth": 1.5, "clip": true},
"encoding": {
"x": {"field": "x", "type": "quantitative", "scale": {"domain": [0, 3000], "nice": false},
"axis": {"values": [0, 500, 1000, 1500, 2000, 2500, 3000], "format": "d", "title": "iterations", "titleFont": "Liberation Serif", "titleFontSize": 30, "titleFontWeight": "normal", "titleColor": "#262626", "titlePadding": 10, "labelFont": "Liberation Sans", "labelFontSize": 23, "labelFontWeight": "bold", "labelColor": "#262626", "labelPadding": 21, "labelFlush": false, "labelOverlap": false, "tickSize": -7, "tickColor": "#262626", "domainColor": "#262626", "grid": true, "gridColor": "#dfdfdf"}},
"y": {"field": "y", "type": "quantitative", "scale": {"domain": [0, 12], "nice": false},
"axis": {"values": [0, 4, 8, 12], "title": "D_t (%)", "titleFont": "Liberation Sans", "titleFontSize": 26, "titleFontWeight": "bold", "titleColor": "#262626", "titlePadding": 12, "labelFont": "Liberation Sans", "labelFontSize": 23, "labelFontWeight": "bold", "labelColor": "#262626", "labelPadding": 20, "labelFlush": false, "labelOverlap": false, "tickSize": -7, "tickColor": "#262626", "domainColor": "#262626", "grid": true, "gridColor": "#dfdfdf"}},
"color": {"field": "k", "type": "nominal",
"scale": {"domain": ["a", "b", "c", "d", "e"], "range": ["#000000", "#ff0000", "#0000ff", "#ff00ff", "#00ff00"]},
"legend": {"orient": "none", "legendX": 510, "legendY": 30, "title": null, "symbolType": "M-1,0H3", "symbolSize": 1225, "symbolStrokeWidth": 1.5, "symbolFillColor": "transparent", "labelFont": "Liberation Sans", "labelFontSize": 23, "labelFontWeight": "bold", "labelColor": "#000000", "labelOffset": 45, "labelLimit": 400, "rowPadding": 13.5, "padding": 9, "strokeColor": "#262626", "fillColor": "white",
"labelExpr": "{'a': 'No Projection', 'b': 'β=0.15, Nₚ=150\u2009\u2800', 'c': 'β=0.15, Nₚ=50', 'd': 'β=0.5, Nₚ=150', 'e': 'β=0.5, Nₚ=50'}[datum.value]"}}
}
},
{
"transform": [{"filter": "datum.k == 'e'"}],
"mark": {"type": "line", "strokeWidth": 1.5, "clip": true},
"encoding": {
"x": {"field": "x", "type": "quantitative", "scale": {"domain": [0, 3000], "nice": false},
"axis": {"orient": "top", "values": [0, 500, 1000, 1500, 2000, 2500, 3000], "labels": false, "title": null, "grid": false, "tickSize": -7, "tickColor": "#262626", "domainColor": "#262626"}},
"y": {"field": "y", "type": "quantitative", "scale": {"domain": [0, 12], "nice": false},
"axis": {"orient": "right", "values": [0, 4, 8, 12], "labels": false, "title": null, "grid": false, "tickSize": -7, "tickColor": "#262626", "domainColor": "#262626"}},
"color": {"field": "k", "type": "nominal", "scale": {"domain": ["a", "b", "c", "d", "e"], "range": ["#000000", "#ff0000", "#0000ff", "#ff00ff", "#00ff00"]}}
}
}
],
"resolve": {"axis": {"x": "independent", "y": "independent"}}
}
